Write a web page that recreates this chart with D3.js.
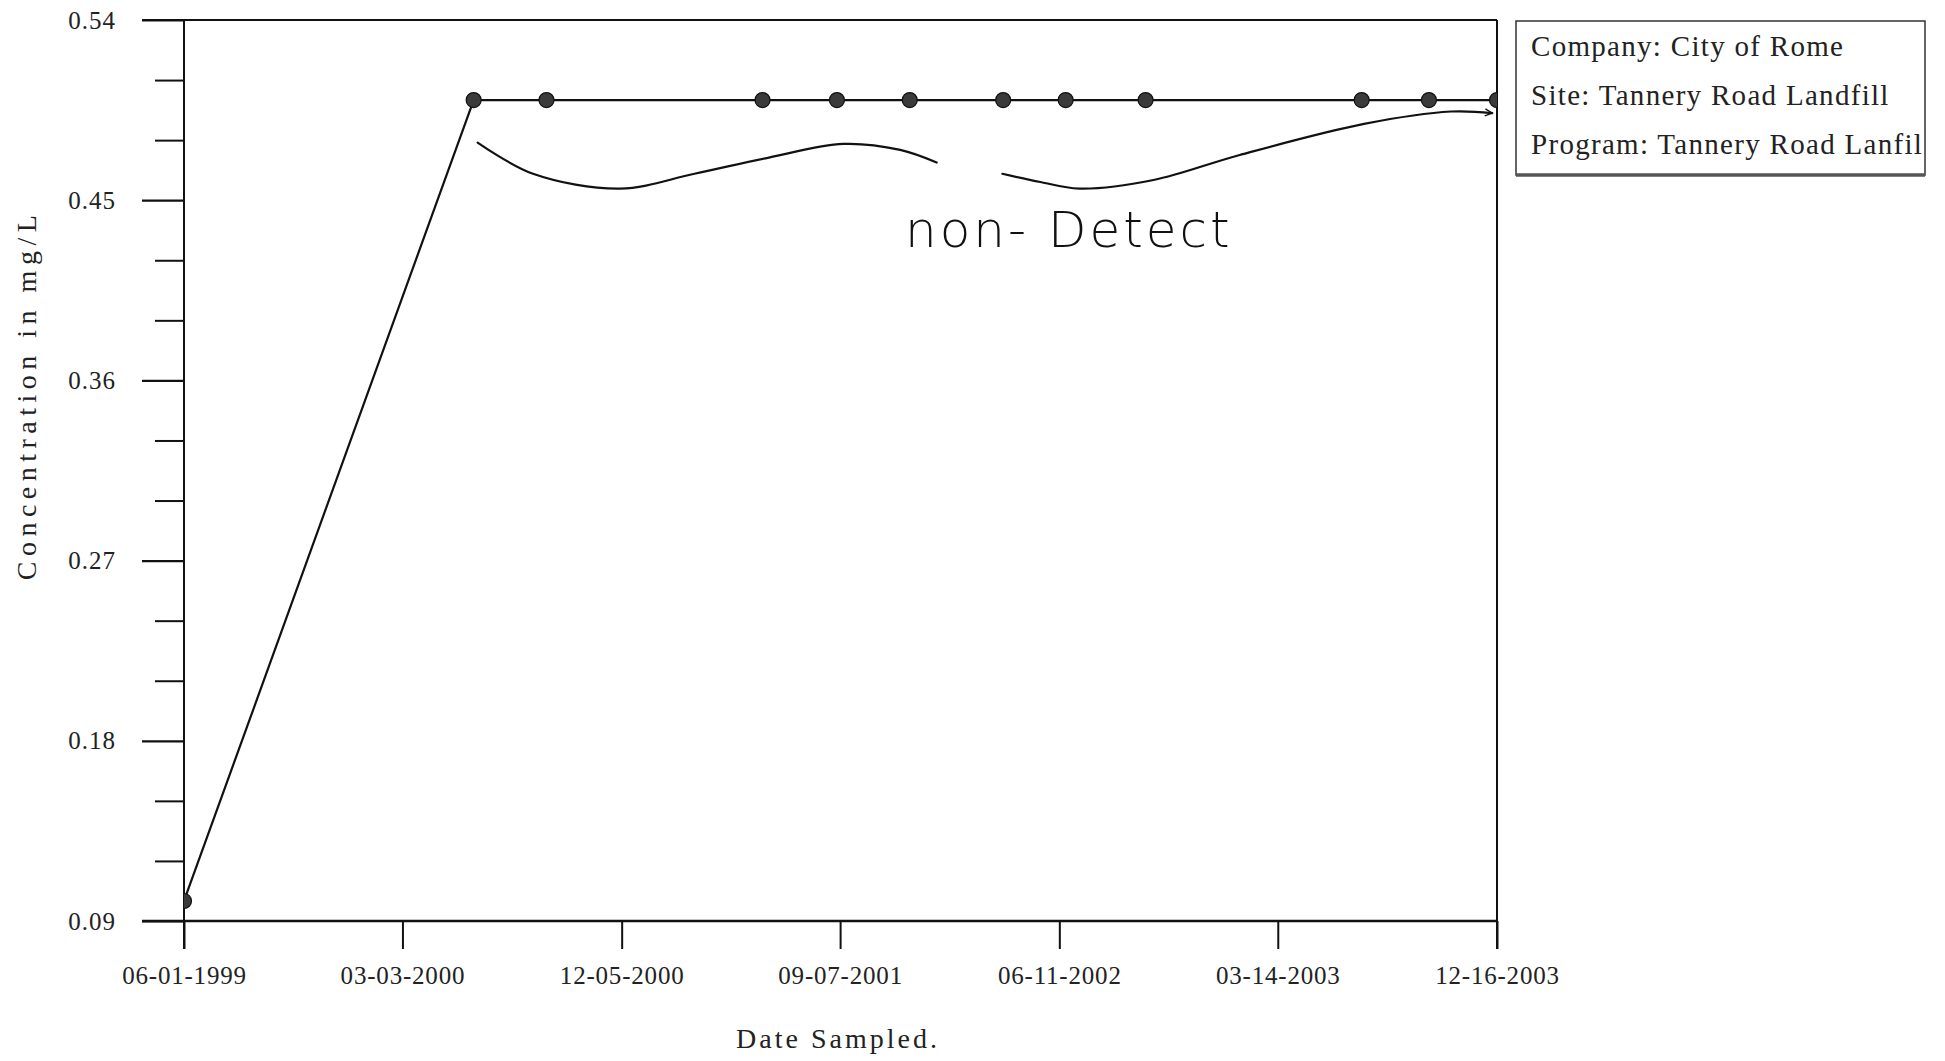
<!DOCTYPE html>
<html><head><meta charset="utf-8">
<script src="https://cdn.jsdelivr.net/npm/d3@7"></script>
<style>
html,body{margin:0;padding:0;background:#fff;}
svg{display:block;}
</style></head>
<body>
<svg id="chart" width="1945" height="1061"></svg>
<script>
// ---- data ----
const sampleDates = ["1999-06-01","2000-06-01","2000-09-01","2001-06-01","2001-09-03","2001-12-04",
  "2002-04-01","2002-06-19","2002-09-28","2003-06-28","2003-09-21","2003-12-16"];
const concentrations = [0.10,0.50,0.50,0.50,0.50,0.50,0.50,0.50,0.50,0.50,0.50,0.50];
const xTickDates = ["1999-06-01","2000-03-03","2000-12-05","2001-09-07","2002-06-11","2003-03-14","2003-12-16"];
const yMajorTicks = [0.09,0.18,0.27,0.36,0.45,0.54];
const yMinorTicks = [0.12,0.15,0.21,0.24,0.30,0.33,0.39,0.42,0.48,0.51];
const legendLines = ["Company: City of Rome","Site: Tannery Road Landfill","Program: Tannery Road Lanfil"];
// handwritten annotation (approximate, in data units)
const brace1Dates = ["2000-06-06","2000-08-15","2000-12-03","2001-03-07","2001-06-09","2001-09-11","2001-11-22","2002-01-07"];
const brace1Vals  = [0.4788,0.4632,0.4558,0.4632,0.4713,0.4781,0.4751,0.4688];
const brace2Dates = ["2002-03-31","2002-05-18","2002-07-06","2002-10-08","2003-01-25","2003-07-01","2003-10-19","2003-12-10"];
const brace2Vals  = [0.4632,0.4591,0.4558,0.4601,0.4726,0.4881,0.4943,0.4935];
const noteText = "non- Detect";
const noteDate = "2001-11-28", noteVal = 0.4265;

const parse = d3.timeParse("%Y-%m-%d");
const fmt = d3.timeFormat("%m-%d-%Y");
const serif = "'Liberation Serif','Times New Roman',serif";

const svg = d3.select("#chart");
const pLeft = 184, pRight = 1497, pTop = 20, pBottom = 921;

const x = d3.scaleTime().domain([parse("1999-06-01"), parse("2003-12-16")]).range([pLeft, pRight]);
const y = d3.scaleLinear().domain([0.09, 0.54]).range([pBottom, pTop]);

const defs = svg.append("defs");
defs.append("clipPath").attr("id","plotclip")
  .append("rect").attr("x",pLeft).attr("y",pTop).attr("width",pRight-pLeft).attr("height",pBottom-pTop);
defs.append("marker").attr("id","arrow").attr("viewBox","0 0 10 10").attr("refX",9).attr("refY",5)
  .attr("markerWidth",9).attr("markerHeight",9).attr("markerUnits","userSpaceOnUse").attr("orient","auto")
  .append("path").attr("d","M1,1 L9,5 L1,9").attr("fill","none").attr("stroke","#111").attr("stroke-width",1.5);

// frame: top and right borders
svg.append("line").attr("x1",142).attr("x2",pRight).attr("y1",pTop).attr("y2",pTop)
  .attr("stroke","#111").attr("stroke-width",2.2);
svg.append("line").attr("x1",pRight).attr("x2",pRight).attr("y1",pTop).attr("y2",pBottom+28)
  .attr("stroke","#111").attr("stroke-width",2);

// y axis major
const yAxis = d3.axisLeft(y).tickValues(yMajorTicks).tickSize(42).tickPadding(26)
  .tickFormat(d3.format(".2f"));
const gy = svg.append("g").attr("transform",`translate(${pLeft},0)`).call(yAxis);
gy.select(".domain").remove();
gy.selectAll(".tick line").attr("stroke","#111").attr("stroke-width",2.2);
gy.selectAll(".tick text").style("font-size","25px").style("letter-spacing","1px")
  .style("font-family",serif).style("fill","#222");
// y minor
const gym = svg.append("g").attr("transform",`translate(${pLeft},0)`)
  .call(d3.axisLeft(y).tickValues(yMinorTicks).tickSize(29).tickFormat(""));
gym.select(".domain").remove();
gym.selectAll(".tick line").attr("stroke","#111").attr("stroke-width",2);
// left axis line
svg.append("line").attr("x1",pLeft).attr("x2",pLeft).attr("y1",pTop).attr("y2",pBottom+28)
  .attr("stroke","#111").attr("stroke-width",2);

// x axis
const xAxis = d3.axisBottom(x).tickValues(xTickDates.map(parse)).tickSize(28).tickPadding(17)
  .tickFormat(fmt);
const gx = svg.append("g").attr("transform",`translate(0,${pBottom})`).call(xAxis);
gx.select(".domain").remove();
gx.selectAll(".tick line").attr("stroke","#111").attr("stroke-width",2);
gx.selectAll(".tick text").style("font-size","25px").style("letter-spacing","0.8px")
  .style("font-family",serif).style("fill","#222");
svg.append("line").attr("x1",142).attr("x2",pRight).attr("y1",pBottom).attr("y2",pBottom)
  .attr("stroke","#111").attr("stroke-width",2.6);

// axis titles
svg.append("text").attr("x",838).attr("y",1048).attr("text-anchor","middle")
  .style("font-family",serif).style("font-size","28px").style("letter-spacing","3px").style("fill","#222")
  .text("Date Sampled.");
svg.append("text").attr("transform","translate(36,395) rotate(-90)").attr("text-anchor","middle")
  .style("font-family",serif).style("font-size","28px").style("letter-spacing","5.5px").style("fill","#222")
  .text("Concentration in mg/L");

// data line and points
const data = sampleDates.map((d,i)=>({date:parse(d), value:concentrations[i]}));
const line = d3.line().x(d=>x(d.date)).y(d=>y(d.value));
svg.append("path").datum(data).attr("d",line).attr("fill","none")
  .attr("stroke","#111").attr("stroke-width",2.2);
svg.append("g").attr("clip-path","url(#plotclip)").selectAll("circle").data(data).join("circle")
  .attr("cx",d=>x(d.date)).attr("cy",d=>y(d.value)).attr("r",7.5)
  .attr("fill","#3a3a3a").attr("stroke","#111").attr("stroke-width",1.2);

// legend box
const lg = svg.append("g");
lg.append("rect").attr("x",1516).attr("y",21).attr("width",409).attr("height",154)
  .attr("fill","#fff").attr("stroke","#333").attr("stroke-width",1.5);
lg.append("line").attr("x1",1516).attr("x2",1925).attr("y1",175).attr("y2",175)
  .attr("stroke","#555").attr("stroke-width",3.5);
lg.selectAll("text.leg").data(legendLines).join("text").attr("class","leg")
  .attr("x",1531).attr("y",(d,i)=>56+i*49)
  .style("font-family",serif).style("font-size","29px").style("letter-spacing","1.3px").style("fill","#222")
  .text(d=>d);

// handwritten annotation
const ann = d3.line().x(d=>x(parse(d[0]))).y(d=>y(d[1])).curve(d3.curveCatmullRom);
svg.append("path").attr("d",ann(brace1Dates.map((d,i)=>[d,brace1Vals[i]])))
  .attr("fill","none").attr("stroke","#111").attr("stroke-width",2.2).attr("stroke-linecap","round");
svg.append("path").attr("d",ann(brace2Dates.map((d,i)=>[d,brace2Vals[i]])))
  .attr("fill","none").attr("stroke","#111").attr("stroke-width",2.2).attr("stroke-linecap","round")
  .attr("marker-end","url(#arrow)");
svg.append("text").attr("x",x(parse(noteDate))).attr("y",y(noteVal))
  .style("font-family","'DejaVu Sans','Noto Sans',sans-serif").style("font-weight","200")
  .style("font-size","50px").style("letter-spacing","3px").style("fill","#111").text(noteText);
</script>
</body></html>
